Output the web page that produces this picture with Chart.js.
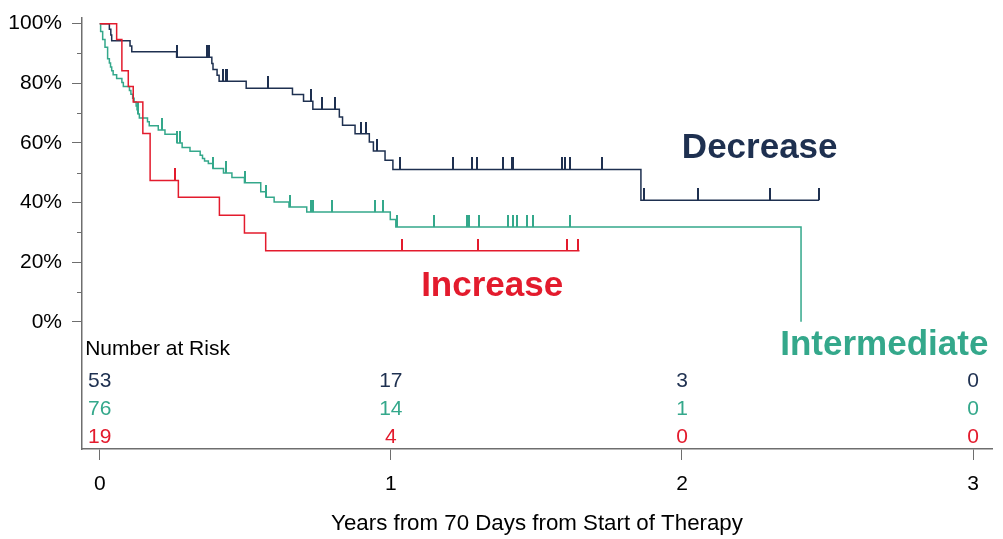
<!DOCTYPE html>
<html>
<head>
<meta charset="utf-8">
<script src="https://cdn.jsdelivr.net/npm/chart.js@4.4.1/dist/chart.umd.min.js"></script>
<style>
html,body{margin:0;padding:0;background:#fff;}
canvas{display:block;}
</style>
</head>
<body>
<canvas id="km" width="1003" height="539"></canvas>
<script>
const NAVY = "#1e3050";
const TEAL = "#34a88b";
const RED = "#e31b2d";
const AXIS = "#6e6e6e";
const FONT = "'Liberation Sans', Arial, sans-serif";

/* survival curves: time in years, % surviving */
const decTimes = [0, 0.033, 0.038, 0.041, 0.104, 0.110, 0.264, 0.385, 0.389, 0.403, 0.410, 0.503, 0.662, 0.700, 0.732, 0.823, 0.834, 0.877, 0.926, 0.940, 0.980, 1.007, 1.859, 2.471];
const decSurv = [100, 98.1, 96.2, 94.3, 92.5, 90.6, 88.7, 86.6, 84.6, 82.7, 80.7, 78.3, 76.2, 74.0, 71.3, 68.7, 65.9, 63.1, 60.3, 57.3, 54.2, 51.1, 40.8, 40.8];
const decCensor = [0.265, 0.368, 0.375, 0.423, 0.432, 0.436, 0.577, 0.725, 0.763, 0.807, 0.897, 0.916, 0.954, 1.030, 1.215, 1.278, 1.297, 1.384, 1.416, 1.419, 1.588, 1.599, 1.614, 1.725, 1.868, 2.055, 2.303, 2.471];

const intTimes = [0, 0.003, 0.010, 0.018, 0.027, 0.033, 0.037, 0.041, 0.046, 0.058, 0.076, 0.081, 0.102, 0.107, 0.113, 0.118, 0.125, 0.128, 0.1315, 0.136, 0.164, 0.170, 0.201, 0.224, 0.265, 0.266, 0.283, 0.310, 0.345, 0.353, 0.360, 0.373, 0.389, 0.425, 0.454, 0.497, 0.553, 0.571, 0.599, 0.650, 0.711, 0.998, 1.017, 2.409];
const intSurv = [100, 97.4, 94.7, 92.1, 88.2, 86.8, 85.5, 84.2, 82.9, 81.6, 80.3, 78.9, 77.6, 76.3, 75.0, 73.7, 72.4, 71.1, 69.7, 68.4, 67.1, 65.8, 64.3, 62.9, 61.5, 60.0, 58.5, 57.2, 55.9, 54.8, 53.9, 53.1, 51.4, 49.9, 48.4, 46.6, 43.6, 41.8, 40.2, 38.5, 36.8, 34.3, 31.8, 0];
const intCensor = [0.132, 0.215, 0.267, 0.274, 0.390, 0.433, 0.500, 0.572, 0.655, 0.724, 0.731, 0.799, 0.944, 0.973, 1.021, 1.148, 1.263, 1.270, 1.304, 1.404, 1.418, 1.432, 1.467, 1.488, 1.616];

const incTimes = [0, 0.058, 0.076, 0.098, 0.115, 0.148, 0.173, 0.270, 0.411, 0.497, 0.570, 1.648];
const incSurv = [100, 94.7, 84.2, 78.9, 73.7, 63.2, 47.4, 41.8, 35.7, 29.8, 23.8, 23.8];
const incCensor = [0.259, 1.038, 1.301, 1.605, 1.643];

/* number at risk */
const riskTimes = [0, 1, 2, 3];
const decRisk = [53, 17, 3, 0];
const intRisk = [76, 14, 1, 0];
const incRisk = [19, 4, 0, 0];

const xTicks = [0, 1, 2, 3];
const yTicks = [0, 10, 20, 30, 40, 50, 60, 70, 80, 90, 100];

function toPoints(times, surv){
  return times.map((t, i) => ({x: t, y: surv[i]}));
}

function levelAt(times, surv, t){
  let v = surv[0];
  for(let i = 0; i < times.length; i++){
    if(times[i] <= t) v = surv[i];
  }
  return v;
}

function tickMark(color){
  const c = document.createElement("canvas");
  c.width = 2; c.height = 24;
  const g = c.getContext("2d");
  g.fillStyle = color;
  g.fillRect(0, 0, 2, 12);
  return c;
}

function curve(label, times, surv, color){
  return {
    label: label,
    data: toPoints(times, surv),
    borderColor: color,
    borderWidth: 1.5,
    stepped: "before",
    pointRadius: 0,
    fill: false
  };
}

function censors(label, cens, times, surv, color){
  return {
    label: label + " censored",
    data: cens.map(t => ({x: t, y: levelAt(times, surv, t)})),
    showLine: false,
    pointStyle: tickMark(color),
    pointRadius: 6,
    borderColor: color,
    backgroundColor: color
  };
}

/* texts drawn on top of the plot */
const groupLabels = [
  {text: "Decrease", color: NAVY, x: 2.267, y: 58.3},
  {text: "Increase", color: RED, x: 1.348, y: 12.0},
  {text: "Intermediate", color: TEAL, x: 2.695, y: -7.8}
];
const riskRows = [
  {counts: decRisk, color: NAVY, y: -19.8},
  {counts: intRisk, color: TEAL, y: -29.3},
  {counts: incRisk, color: RED, y: -38.8}
];

const extras = {
  id: "extras",
  afterDraw(chart){
    const {ctx, chartArea} = chart;
    const x = chart.scales.x, y = chart.scales.y;
    ctx.save();

    // minor y ticks
    ctx.strokeStyle = AXIS;
    ctx.lineWidth = 1;
    yTicks.filter(v => v % 20 !== 0).forEach(v => {
      const py = Math.round(y.getPixelForValue(v)) + 0.5;
      ctx.beginPath();
      ctx.moveTo(chartArea.left - 5, py);
      ctx.lineTo(chartArea.left, py);
      ctx.stroke();
    });

    // group names
    ctx.font = "bold 35px " + FONT;
    ctx.textAlign = "center";
    ctx.textBaseline = "middle";
    groupLabels.forEach(g => {
      ctx.fillStyle = g.color;
      ctx.fillText(g.text, x.getPixelForValue(g.x), y.getPixelForValue(g.y));
    });

    // number at risk table
    ctx.font = "21px " + FONT;
    ctx.fillStyle = "#000";
    ctx.textAlign = "left";
    ctx.fillText("Number at Risk", x.getPixelForValue(-0.05), y.getPixelForValue(-9.2));
    ctx.textAlign = "center";
    riskRows.forEach(r => {
      ctx.fillStyle = r.color;
      r.counts.forEach((n, i) => {
        ctx.fillText(String(n), x.getPixelForValue(riskTimes[i]), y.getPixelForValue(r.y));
      });
    });

    ctx.restore();
  }
};

const ctx = document.getElementById("km").getContext("2d");

new Chart(ctx, {
  type: "line",
  data: {
    datasets: [
      curve("Increase", incTimes, incSurv, RED),
      curve("Intermediate", intTimes, intSurv, TEAL),
      curve("Decrease", decTimes, decSurv, NAVY),
      censors("Increase", incCensor, incTimes, incSurv, RED),
      censors("Intermediate", intCensor, intTimes, intSurv, TEAL),
      censors("Decrease", decCensor, decTimes, decSurv, NAVY)
    ]
  },
  options: {
    responsive: false,
    animation: false,
    devicePixelRatio: 1,
    layout: {padding: {top: 18, right: 11, left: 0, bottom: 0}},
    plugins: {legend: {display: false}, tooltip: {enabled: false}},
    scales: {
      x: {
        type: "linear",
        min: -0.061,
        max: 3.065,
        afterBuildTicks: s => { s.ticks = xTicks.map(v => ({value: v})); },
        afterFit: s => { s.height = 90; s.paddingLeft = 0; s.paddingRight = 0; },
        grid: {drawOnChartArea: false, tickLength: 11, tickColor: AXIS, tickWidth: 1},
        border: {display: true, color: AXIS, width: 1.5},
        ticks: {color: "#000", padding: 12, font: {size: 21, family: FONT}, maxRotation: 0, callback: v => String(v)},
        title: {display: true, text: "Years from 70 Days from Start of Therapy", color: "#000",
                font: {size: 22.3, family: FONT}, padding: {top: 0, bottom: 2}}
      },
      y: {
        type: "linear",
        min: -42.66,
        max: 101.9,
        afterBuildTicks: s => { s.ticks = yTicks.map(v => ({value: v})); },
        afterFit: s => { s.width = 82; s.paddingTop = 0; s.paddingBottom = 0; },
        grid: {drawOnChartArea: false, tickLength: 10, tickWidth: 1,
               tickColor: c => (c.tick && c.tick.value % 20 === 0) ? AXIS : "rgba(0,0,0,0)"},
        border: {display: true, color: AXIS, width: 1.5},
        ticks: {color: "#000", padding: 10, font: {size: 21, family: FONT},
                callback: v => (v % 20 === 0 ? v + "%" : "")}
      }
    }
  },
  plugins: [extras]
});
</script>
</body>
</html>
